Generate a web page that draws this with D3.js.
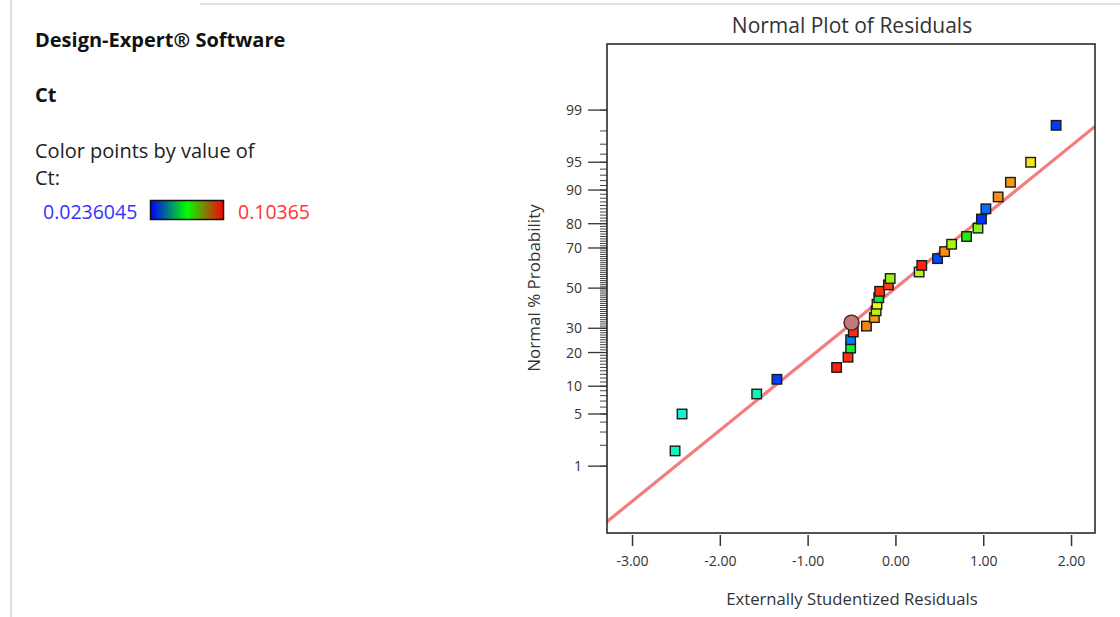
<!DOCTYPE html>
<html>
<head>
<meta charset="utf-8">
<script src="https://cdn.jsdelivr.net/npm/d3@7"></script>
<style>
    body { margin: 0; background: #fff; }
    svg text { font-family: "Open Sans", "Noto Sans", sans-serif; }
</style>
</head>
<body>
<div id="chart"></div>
<script>
// residuals (x), normal % probability (y), and Ct value used for colour
const residuals = [-2.51, -2.43, -1.58, -1.35, -0.67, -0.54, -0.51, -0.51, -0.48, -0.33,
    -0.24, -0.22, -0.21, -0.19, -0.18, -0.08, -0.06, 0.27, 0.30, 0.48,
    0.56, 0.64, 0.81, 0.94, 0.98, 1.03, 1.17, 1.31, 1.54, 1.83];
const probabilities = [1.67, 5.0, 8.33, 11.67, 15.0, 18.33, 21.67, 25.0, 28.33, 31.0,
    35.0, 38.33, 41.67, 45.0, 48.33, 51.67, 55.0, 58.33, 61.67, 65.0,
    68.33, 71.67, 75.0, 78.33, 81.67, 85.0, 88.33, 91.67, 95.0, 98.33];
const ctValues = [0.047, 0.046, 0.048, 0.026, 0.1025, 0.101, 0.060, 0.031, 0.1015, 0.094,
    0.092, 0.078, 0.083, 0.062, 0.101, 0.100, 0.076, 0.078, 0.102, 0.027,
    0.093, 0.077, 0.065, 0.074, 0.025, 0.030, 0.093, 0.092, 0.085, 0.026];

// highlighted run (drawn as circle)
const selectedPoint = { residual: -0.50, probability: 32.6 };

const ctMin = 0.0236045;
const ctMax = 0.10365;

const xTicks = [-3, -2, -1, 0, 1, 2];
const yMajorTicks = [1, 5, 10, 20, 30, 50, 70, 80, 90, 95, 99];
const yMinorTicks = d3.range(1, 100);

// reference line: normal score = slope * residual
const refSlope = 0.929;
const refIntercept = 0;

// inverse normal cdf (Acklam)
const probit = (p) => {
    const a = [-3.969683028665376e+01, 2.209460984245205e+02, -2.759285104469687e+02, 1.383577518672690e+02, -3.066479806614716e+01, 2.506628277459239e+00];
    const b = [-5.447609879822406e+01, 1.615858368580409e+02, -1.556989798598866e+02, 6.680131188771972e+01, -1.328068155288572e+01];
    const c = [-7.784894002430293e-03, -3.223964580411365e-01, -2.400758277161838e+00, -2.549732539343734e+00, 4.374664141464968e+00, 2.938163982698783e+00];
    const d = [7.784695709041462e-03, 3.224671290700398e-01, 2.445134137142996e+00, 3.754408661907416e+00];
    const pl = 0.02425;
    let q, r;
    if (p < pl) {
        q = Math.sqrt(-2 * Math.log(p));
        return (((((c[0]*q+c[1])*q+c[2])*q+c[3])*q+c[4])*q+c[5]) / ((((d[0]*q+d[1])*q+d[2])*q+d[3])*q+1);
    } else if (p <= 1 - pl) {
        q = p - 0.5; r = q * q;
        return (((((a[0]*r+a[1])*r+a[2])*r+a[3])*r+a[4])*r+a[5])*q / (((((b[0]*r+b[1])*r+b[2])*r+b[3])*r+b[4])*r+1);
    }
    q = Math.sqrt(-2 * Math.log(1 - p));
    return -(((((c[0]*q+c[1])*q+c[2])*q+c[3])*q+c[4])*q+c[5]) / ((((d[0]*q+d[1])*q+d[2])*q+d[3])*q+1);
};

const svg = d3.select("#chart").append("svg")
    .attr("width", 1120)
    .attr("height", 617);

// window frame lines
svg.append("line").attr("x1", 11).attr("x2", 11).attr("y1", 0).attr("y2", 617)
    .style("stroke", "#dcdcdc").style("stroke-width", 2);
svg.append("line").attr("x1", 200).attr("x2", 1120).attr("y1", 4).attr("y2", 4)
    .style("stroke", "#e2e2e2").style("stroke-width", 2);

// ---- left info panel ----
svg.append("text").attr("x", 35).attr("y", 47)
    .style("font-size", "20px").style("font-weight", "bold").style("fill", "#111")
    .text("Design-Expert® Software");
svg.append("text").attr("x", 35).attr("y", 102)
    .style("font-size", "20px").style("font-weight", "bold").style("fill", "#111")
    .text("Ct");
svg.append("text").attr("x", 35).attr("y", 158)
    .style("font-size", "20px").style("fill", "#222")
    .text("Color points by value of");
svg.append("text").attr("x", 35).attr("y", 185)
    .style("font-size", "20px").style("fill", "#222")
    .text("Ct:");

const grad = svg.append("defs").append("linearGradient").attr("id", "ctGrad");
grad.append("stop").attr("offset", "0%").attr("stop-color", "#0000ff");
grad.append("stop").attr("offset", "50%").attr("stop-color", "#00ff00");
grad.append("stop").attr("offset", "100%").attr("stop-color", "#ff0000");

svg.append("text").attr("x", 43).attr("y", 219)
    .style("font-size", "19.5px").style("fill", "#3333ff")
    .text(ctMin);
svg.append("rect").attr("x", 150.5).attr("y", 200.5).attr("width", 73).attr("height", 19)
    .style("fill", "url(#ctGrad)").style("stroke", "#111").style("stroke-width", 1.5);
svg.append("text").attr("x", 238).attr("y", 219)
    .style("font-size", "19.5px").style("fill", "#ff3333")
    .text(ctMax);

// ---- plot ----
const x = d3.scaleLinear().domain([-3.285, 2.273]).range([607, 1095]);
const y = d3.scaleLinear().domain([-3.2, 3.19]).range([533, 44]);
const yP = (pct) => y(probit(pct / 100));

const color = d3.scaleLinear()
    .domain([ctMin, (ctMin + ctMax) / 2, ctMax])
    .range(["#0022ff", "#11ee11", "#ff1111"])
    .interpolate(d3.interpolateHsl);

svg.append("clipPath").attr("id", "plotClip")
    .append("rect").attr("x", 607).attr("y", 44).attr("width", 488).attr("height", 489);

svg.append("text").attr("x", 852).attr("y", 33)
    .attr("text-anchor", "middle")
    .style("font-size", "21px").style("fill", "#333")
    .text("Normal Plot of Residuals");

// reference line
const lineX = x.domain();
svg.append("line")
    .attr("clip-path", "url(#plotClip)")
    .attr("x1", x(lineX[0])).attr("y1", y(refIntercept + refSlope * lineX[0]))
    .attr("x2", x(lineX[1])).attr("y2", y(refIntercept + refSlope * lineX[1]))
    .style("stroke", "#f47c7c").style("stroke-width", 3.2);

// x axis
const xAxis = svg.append("g")
    .attr("transform", "translate(0,535)")
    .call(d3.axisBottom(x).tickValues(xTicks).tickFormat(d3.format(".2f")).tickSize(11).tickSizeOuter(0));
xAxis.select(".domain").remove();
xAxis.selectAll("line").style("stroke", "#333").style("stroke-width", 1.5);
xAxis.selectAll("text").attr("y", 21).style("font-size", "14px").style("fill", "#333")
    .style("font-family", "'Open Sans', sans-serif").text(d => d3.format(".2f")(d).replace("−", "-"));

svg.append("text").attr("x", 852).attr("y", 605)
    .attr("text-anchor", "middle")
    .style("font-size", "16.7px").style("fill", "#333")
    .text("Externally Studentized Residuals");

// y axis with probability ticks
const yAxis = svg.append("g");
yAxis.selectAll(".minor")
    .data(yMinorTicks)
    .enter().append("line")
    .attr("x1", 600).attr("x2", 607)
    .attr("y1", d => yP(d)).attr("y2", d => yP(d))
    .style("stroke", "#444").style("stroke-width", 1);
yAxis.selectAll(".major")
    .data(yMajorTicks)
    .enter().append("line")
    .attr("x1", 588).attr("x2", 607)
    .attr("y1", d => yP(d)).attr("y2", d => yP(d))
    .style("stroke", "#333").style("stroke-width", 1.3);
yAxis.selectAll("text")
    .data(yMajorTicks)
    .enter().append("text")
    .attr("x", 582).attr("y", d => yP(d) + 5)
    .attr("text-anchor", "end")
    .style("font-size", "14px").style("fill", "#333")
    .text(d => d);

svg.append("text")
    .attr("transform", "translate(540,288) rotate(-90)")
    .attr("text-anchor", "middle")
    .style("font-size", "17px").style("fill", "#333")
    .text("Normal % Probability");

// plot frame
svg.append("rect").attr("x", 607).attr("y", 44).attr("width", 488).attr("height", 489)
    .style("fill", "none").style("stroke", "#2a2a2a").style("stroke-width", 1.6);

// points
const points = residuals.map((r, i) => ({ r: r, p: probabilities[i], ct: ctValues[i] }));
const size = 9.5;
svg.append("g")
    .selectAll("rect")
    .data(points)
    .enter().append("rect")
    .attr("x", d => x(d.r) - size / 2)
    .attr("y", d => yP(d.p) - size / 2)
    .attr("width", size)
    .attr("height", size)
    .style("fill", d => color(d.ct))
    .style("stroke", "#1a1a1a")
    .style("stroke-width", 1.4);

svg.append("circle")
    .attr("cx", x(selectedPoint.residual))
    .attr("cy", yP(selectedPoint.probability))
    .attr("r", 7.5)
    .style("fill", "#c07a7a")
    .style("stroke", "#4a2020")
    .style("stroke-width", 1.4);
</script>
</body>
</html>
